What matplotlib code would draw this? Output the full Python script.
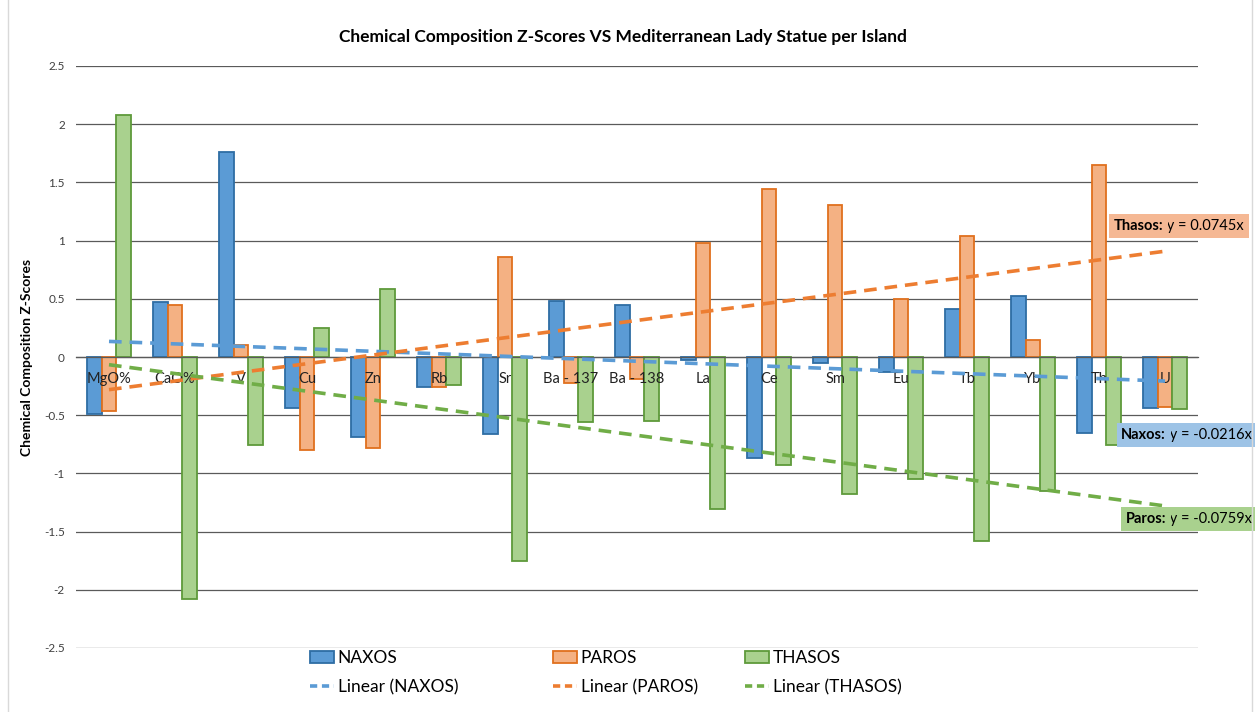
import numpy as np
import matplotlib.pyplot as plt
from matplotlib.patches import Patch, Rectangle
from matplotlib.lines import Line2D
from matplotlib.ticker import FuncFormatter

plt.rcParams['font.family'] = ['Lato', 'DejaVu Sans']

categories = ['MgO%', 'CaO%', 'V', 'Cu', 'Zn', 'Rb', 'Sr', 'Ba - 137', 'Ba - 138',
              'La', 'Ce', 'Sm', 'Eu', 'Tb', 'Yb', 'Th', 'U']
naxos = [-0.49, 0.47, 1.76, -0.44, -0.69, -0.26, -0.66, 0.48, 0.45,
         -0.03, -0.87, -0.05, -0.13, 0.41, 0.52, -0.65, -0.44]
paros = [-0.46, 0.45, 0.10, -0.80, -0.78, -0.26, 0.86, -0.22, -0.19,
         0.98, 1.44, 1.31, 0.50, 1.04, 0.15, 1.65, -0.43]
thasos = [2.08, -2.08, -0.76, 0.25, 0.58, -0.24, -1.75, -0.56, -0.55,
          -1.31, -0.93, -1.18, -1.05, -1.58, -1.15, -0.76, -0.45]
series_names = ['NAXOS', 'PAROS', 'THASOS']
eq_names = ['Thasos:', 'Naxos:', 'Paros:']
eq_texts = [' y = 0.0745x', ' y = -0.0216x', ' y = -0.0759x']

fills = ['#5B9BD5', '#F4B183', '#A9D18E']
edges = ['#2E6DA4', '#E0701E', '#5E9A3A']
trend_colors = ['#5B9BD5', '#ED7D31', '#70AD47']

fig = plt.figure(figsize=(12.55, 7.12), dpi=100)
ax = fig.add_axes([76 / 1255, 1 - 648 / 712, 1122 / 1255, 582 / 712])

x = np.arange(len(categories))
w = 0.227
for k, vals in enumerate([naxos, paros, thasos]):
    ax.bar(x + (k - 1) * w, vals, width=w, color=fills[k], edgecolor=edges[k],
           linewidth=1.3, zorder=1)

# excel style linear trendlines (x = 1..n)
for k, vals in enumerate([naxos, paros, thasos]):
    m, b = np.polyfit(x + 1, vals, 1)
    ax.plot(x, m * (x + 1) + b, color=trend_colors[k], lw=2.6,
            dashes=(3.5, 2.2), zorder=4)

ax.set_xlim(-0.5, len(categories) - 0.5)
ax.set_ylim(-2.5, 2.5)
for s in ['top', 'right', 'left']:
    ax.spines[s].set_visible(False)
ax.spines['bottom'].set_position(('data', 0))
ax.spines['bottom'].set_color('#5a5a5a')
ax.spines['bottom'].set_linewidth(0.9)
ax.set_yticks(np.arange(-2.5, 2.51, 0.5))
ax.yaxis.set_major_formatter(FuncFormatter(lambda v, p: '{:g}'.format(v)))
ax.grid(axis='y', color='#5a5a5a', lw=0.9)
ax.set_axisbelow(True)
ax.set_xticks(x)
ax.tick_params(axis='x', length=0, labelbottom=False)
ax.tick_params(axis='y', length=0, pad=8, labelsize=8.5, labelcolor='#404040')

# category labels sit just under the zero line, over the bars
for i, c in enumerate(categories):
    ax.annotate(c, xy=(x[i], 0), xytext=(0, -16), textcoords='offset points',
                ha='center', va='center', fontsize=10.5, color='#222222',
                zorder=3)

ax.set_ylabel('Chemical Composition Z-Scores', fontsize=10, fontweight='bold')
ax.yaxis.set_label_coords(-0.038, 0.5)
fig.text(0.496, 0.948, 'Chemical Composition Z-Scores VS Mediterranean Lady Statue per Island',
         ha='center', va='center', fontsize=12.5, fontweight='bold')

# legends, one per column
leg_x = [310 / 1255, 553 / 1255, 745 / 1255]
for k in range(3):
    h = [Patch(facecolor=fills[k], edgecolor=edges[k], linewidth=1.3),
         Line2D([0], [0], color=trend_colors[k], lw=2.6, dashes=(2, 1.3))]
    fig.legend(h, [series_names[k], 'Linear (%s)' % series_names[k]],
               loc='upper left', bbox_to_anchor=(leg_x[k], 1 - 650 / 712),
               frameon=False, fontsize=12.5, borderpad=0, borderaxespad=0,
               handlelength=1.4, handletextpad=0.2, labelspacing=0.75)

# equation boxes, anchored at their right edge
box_cols = ['#F5B894', '#9DC3E6', '#A9D18E']
box_pos = [(1244, 226), (1252, 435), (1252, 519)]
for k in range(3):
    px, py = box_pos[k]
    t2 = ax.annotate(eq_texts[k], xy=(px / 1255, 1 - py / 712),
                     xycoords='figure fraction', fontsize=10.5,
                     va='center', ha='right', annotation_clip=False, zorder=6,
                     bbox=dict(facecolor=box_cols[k], edgecolor='none', pad=3.5))
    ax.annotate(eq_names[k], xy=(0, 0.5), xycoords=t2, va='center', ha='right',
                fontsize=10.5, fontweight='bold', annotation_clip=False, zorder=7,
                bbox=dict(facecolor=box_cols[k], edgecolor='none', pad=3.5))

fig.patches.append(Rectangle((8 / 1255, -0.01), 1244 / 1255, 1.02,
                             transform=fig.transFigure, fill=False,
                             edgecolor='#d9d9d9', lw=1))

fig.savefig('out.png', dpi=100)
